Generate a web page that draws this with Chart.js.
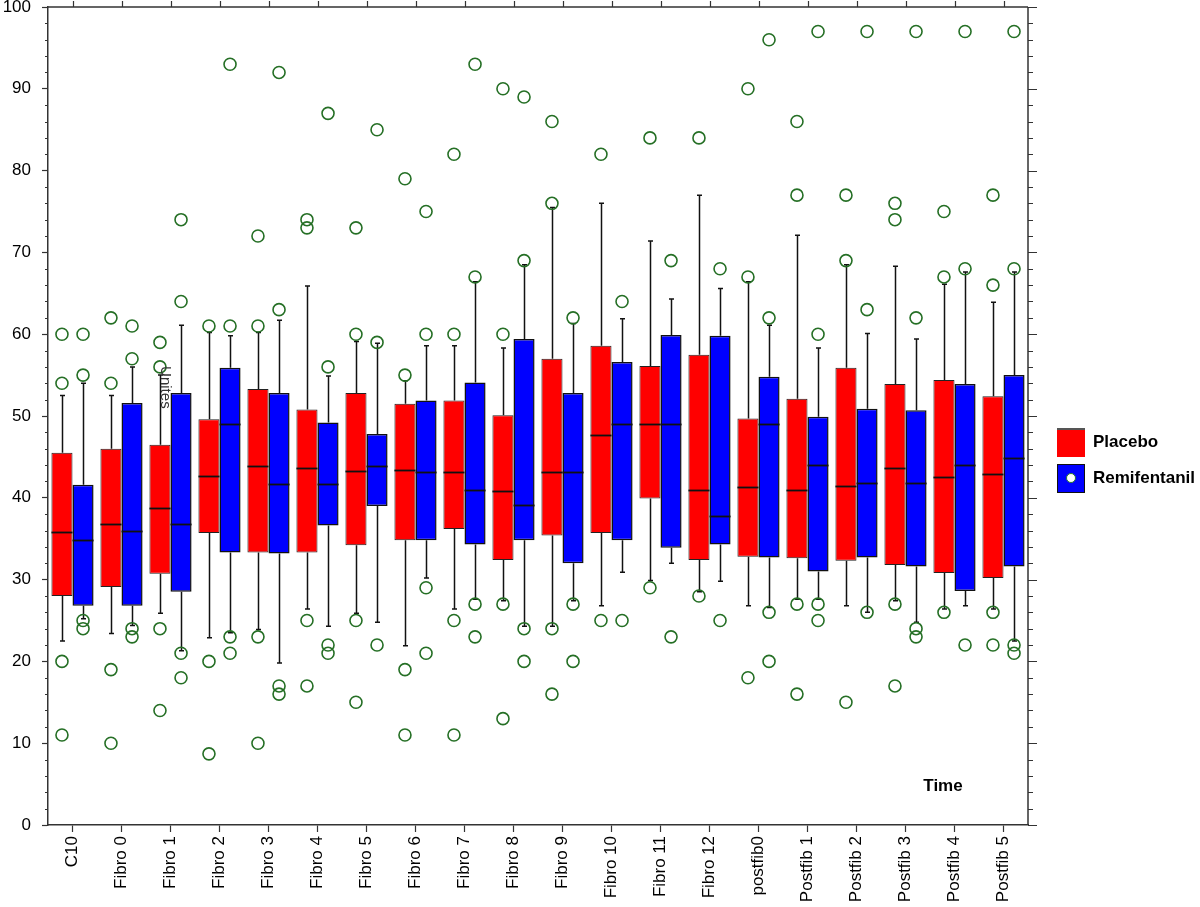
<!DOCTYPE html>
<html>
<head>
<meta charset="utf-8">
<script src="https://cdn.jsdelivr.net/npm/chart.js@4.4.0/dist/chart.umd.min.js"></script>
<style>
  html, body { margin: 0; padding: 0; background: #fff; }
  #wrap { position: relative; width: 1200px; height: 907px; }
  canvas { position: absolute; left: 0; top: 0; }
  .leg { position: absolute; left: 1057px; width: 28px; height: 29px; box-sizing: border-box; }
  .legtxt { position: absolute; left: 1093px; font: bold 17px "Liberation Sans", Arial, sans-serif; color: #000; }
</style>
</head>
<body>
<div id="wrap">
  <canvas id="c" width="1200" height="907"></canvas>
  <div class="leg" style="top:428px;background:#ff0000;border-top:2px solid #555;"></div>
  <div class="legtxt" style="top:432px;">Placebo</div>
  <div class="leg" style="top:464px;background:#0000ff;border:1.5px solid #111;">
    <div style="position:absolute;left:8px;top:8px;width:10px;height:10px;border-radius:50%;background:#fff;border:1px solid #2a7a2a;box-sizing:border-box;"></div>
  </div>
  <div class="legtxt" style="top:468px;">Remifentanil</div>
</div>
<script>
const categories = ['C10','Fibro 0','Fibro 1','Fibro 2','Fibro 3','Fibro 4','Fibro 5','Fibro 6','Fibro 7','Fibro 8','Fibro 9','Fibro 10','Fibro 11','Fibro 12','postfib0','Postfib 1','Postfib 2','Postfib 3','Postfib 4','Postfib 5'];
const yTicks = [0,10,20,30,40,50,60,70,80,90,100];

// Placebo
const placeboQ1 = [28, 29.1, 30.7, 35.7, 33.3, 33.3, 34.2, 34.8, 36.2, 32.4, 35.4, 35.7, 39.9, 32.4, 32.8, 32.6, 32.3, 31.8, 30.8, 30.2];
const placeboQ3 = [45.5, 46, 46.5, 49.6, 53.3, 50.8, 52.8, 51.5, 51.9, 50.1, 57, 58.6, 56.1, 57.5, 49.7, 52.1, 55.9, 53.9, 54.4, 52.4];
const placeboMedian = [35.8, 36.8, 38.7, 42.7, 43.9, 43.7, 43.3, 43.4, 43.1, 40.8, 43.1, 47.7, 49, 40.9, 41.3, 41, 41.5, 43.6, 42.5, 42.9];
const placeboLow = [22.5, 23.4, 25.9, 22.9, 23.9, 26.4, 25.9, 21.9, 26.4, 27.4, 24.3, 26.8, 29.9, 28.5, 26.8, 27.6, 26.8, 27.4, 26.4, 26.4];
const placeboHigh = [52.5, 52.5, 55, 60.2, 60.2, 65.9, 59.1, 54.3, 58.6, 58.3, 75.5, 76, 71.4, 77, 66.4, 72.1, 68.5, 68.3, 66.1, 63.9];
const placeboOutliers = [[60,54,20,11],[62,54,19,10],[59,56,24,14],[61,20,8.7],[72,61,23,10],[74,73,25,17],[73,60,25,15],[79,55,19,11],[82,60,25,11],[90,60,27,13],[86,76,24,16],[82,25],[84,29],[84,28],[90,67,18],[86,77,27,16],[77,69,15],[76,74,27,17],[75,67,26],[77,66,26,22]];

// Remifentanil
const remiQ1 = [26.8, 26.8, 28.5, 33.3, 33.2, 36.6, 39, 34.8, 34.3, 34.8, 32, 34.8, 33.9, 34.3, 32.7, 31, 32.7, 31.6, 28.6, 31.6];
const remiQ3 = [41.6, 51.6, 52.8, 55.9, 52.8, 49.2, 47.8, 51.9, 54.1, 59.4, 52.8, 56.6, 59.9, 59.8, 54.8, 49.9, 50.9, 50.7, 53.9, 55];
const remiMedian = [34.9, 35.9, 36.8, 49, 41.7, 41.7, 43.9, 43.1, 40.9, 39.1, 43.1, 49, 49, 37.8, 49, 44, 41.8, 41.8, 44, 44.9];
const remiLow = [25.2, 24.4, 21.3, 23.5, 19.8, 24.3, 24.8, 30.2, 27.6, 24.3, 27.4, 30.9, 32, 29.8, 26.6, 27.6, 26, 24.8, 26.8, 22.5];
const remiHigh = [54, 56, 61.1, 59.8, 61.7, 54.9, 58.9, 58.6, 66.4, 68.5, 61.3, 61.9, 64.3, 65.6, 61.1, 58.3, 60.1, 59.4, 67.6, 67.6];
const remiOutliers = [[60,55,25,24],[61,57,24,23],[74,64,21,18],[93,61,23,21],[92,63,17,16],[87,56,22,21],[85,59,22],[75,60,29,21],[93,67,27,23],[89,69,24,20],[62,27,20],[64,25],[69,23],[68,25],[96,62,26,20],[97,60,27,25],[97,63,26],[97,62,24,23],[97,68,22],[97,68,22,21]];

const FONT = '"Liberation Sans", Arial, sans-serif';

const series = [
  { low: placeboLow, high: placeboHigh, q1: placeboQ1, q3: placeboQ3, med: placeboMedian, out: placeboOutliers },
  { low: remiLow, high: remiHigh, q1: remiQ1, q3: remiQ3, med: remiMedian, out: remiOutliers }
];

const boxPlugin = {
  id: 'boxParts',
  beforeDatasetsDraw(chart) {
    const ctx = chart.ctx, y = chart.scales.y;
    ctx.save();
    ctx.strokeStyle = '#111';
    ctx.lineWidth = 1.5;
    series.forEach((s, di) => {
      chart.getDatasetMeta(di).data.forEach((bar, i) => {
        const x = Math.round(bar.x) + 0.5;
        const yh = y.getPixelForValue(s.high[i]), yl = y.getPixelForValue(s.low[i]);
        ctx.beginPath();
        ctx.moveTo(x, yh); ctx.lineTo(x, y.getPixelForValue(s.q3[i]));
        ctx.moveTo(x, y.getPixelForValue(s.q1[i])); ctx.lineTo(x, yl);
        ctx.moveTo(x - 2.5, yh); ctx.lineTo(x + 2.5, yh);
        ctx.moveTo(x - 2.5, yl); ctx.lineTo(x + 2.5, yl);
        ctx.stroke();
      });
    });
    ctx.restore();
  },
  afterDatasetsDraw(chart) {
    const ctx = chart.ctx, y = chart.scales.y, xs = chart.scales.x, a = chart.chartArea;
    ctx.save();
    // medians
    ctx.strokeStyle = '#111';
    ctx.lineWidth = 1.8;
    series.forEach((s, di) => {
      chart.getDatasetMeta(di).data.forEach((bar, i) => {
        const py = Math.round(y.getPixelForValue(s.med[i])) + 0.5;
        ctx.beginPath();
        ctx.moveTo(bar.x - bar.width / 2, py);
        ctx.lineTo(bar.x + bar.width / 2, py);
        ctx.stroke();
      });
    });
    // outliers
    ctx.strokeStyle = '#256f25';
    ctx.lineWidth = 1.6;
    series.forEach((s, di) => {
      chart.getDatasetMeta(di).data.forEach((bar, i) => {
        s.out[i].forEach(v => {
          ctx.beginPath();
          ctx.arc(bar.x, y.getPixelForValue(v), 6, 0, Math.PI * 2);
          ctx.stroke();
        });
      });
    });
    // frame: top and right
    ctx.strokeStyle = '#333';
    ctx.lineWidth = 1.5;
    ctx.beginPath();
    ctx.moveTo(a.left, a.top); ctx.lineTo(a.right, a.top);
    ctx.moveTo(a.right, a.top); ctx.lineTo(a.right, a.bottom);
    ctx.stroke();
    // top ticks at category centers, minor/major ticks left and right
    ctx.lineWidth = 1.2;
    ctx.beginPath();
    categories.forEach((c, i) => {
      const px = Math.round(xs.getPixelForValue(i)) + 0.5;
      ctx.moveTo(px, a.top); ctx.lineTo(px, a.top - 6);
    });
    for (let v = 0; v <= 100; v += 2) {
      const py = Math.round(y.getPixelForValue(v)) + 0.5;
      const major = v % 10 === 0;
      ctx.moveTo(a.right, py); ctx.lineTo(a.right + (major ? 9 : 5), py);
      if (!major) { ctx.moveTo(a.left, py); ctx.lineTo(a.left - 3, py); }
    }
    ctx.stroke();
    // misplaced axis titles
    ctx.fillStyle = '#000';
    ctx.font = 'bold 17px ' + FONT;
    ctx.textAlign = 'center';
    ctx.textBaseline = 'middle';
    ctx.fillText('Time', a.right - 85, a.bottom - 39);
    ctx.translate(xs.getPixelForValue(2) - 5, y.getPixelForValue(53.5));
    ctx.rotate(Math.PI / 2);
    ctx.font = '15px ' + FONT;
    ctx.fillStyle = '#333';
    ctx.fillText('Unites', 0, 0);
    ctx.restore();
  }
};

new Chart(document.getElementById('c'), {
  type: 'bar',
  data: {
    labels: categories,
    datasets: [
      { label: 'Placebo', data: placeboQ1.map((v, i) => [v, placeboQ3[i]]), backgroundColor: '#ff0000', borderColor: '#222', borderWidth: 1, borderSkipped: false },
      { label: 'Remifentanil', data: remiQ1.map((v, i) => [v, remiQ3[i]]), backgroundColor: '#0000ff', borderColor: '#111', borderWidth: 1.5, borderSkipped: false }
    ]
  },
  options: {
    responsive: false,
    animation: false,
    devicePixelRatio: 1,
    categoryPercentage: 0.86,
    barPercentage: 1,
    layout: { padding: { top: 7, right: 172, left: 0, bottom: 0 } },
    plugins: { legend: { display: false }, tooltip: { enabled: false } },
    scales: {
      x: {
        type: 'category',
        offset: true,
        grid: { offset: false, drawOnChartArea: false, tickLength: 7, color: '#333', tickWidth: 1.2 },
        border: { color: '#333', width: 1.5 },
        ticks: { minRotation: 90, maxRotation: 90, autoSkip: false, color: '#000', font: { family: FONT, size: 17 }, padding: 4 },
        afterFit(s) { s.height = 82; s.paddingLeft = 0; s.paddingRight = 0; }
      },
      y: {
        min: 0, max: 100,
        afterBuildTicks(s) { s.ticks = yTicks.map(v => ({ value: v })); },
        grid: { drawOnChartArea: false, tickLength: 6, color: '#333', tickWidth: 1.2 },
        border: { color: '#333', width: 1.5 },
        ticks: { color: '#000', font: { family: FONT, size: 17 }, padding: 11 },
        afterFit(s) { s.width = 48; s.paddingTop = 0; s.paddingBottom = 0; }
      }
    }
  },
  plugins: [boxPlugin]
});
</script>
</body>
</html>
